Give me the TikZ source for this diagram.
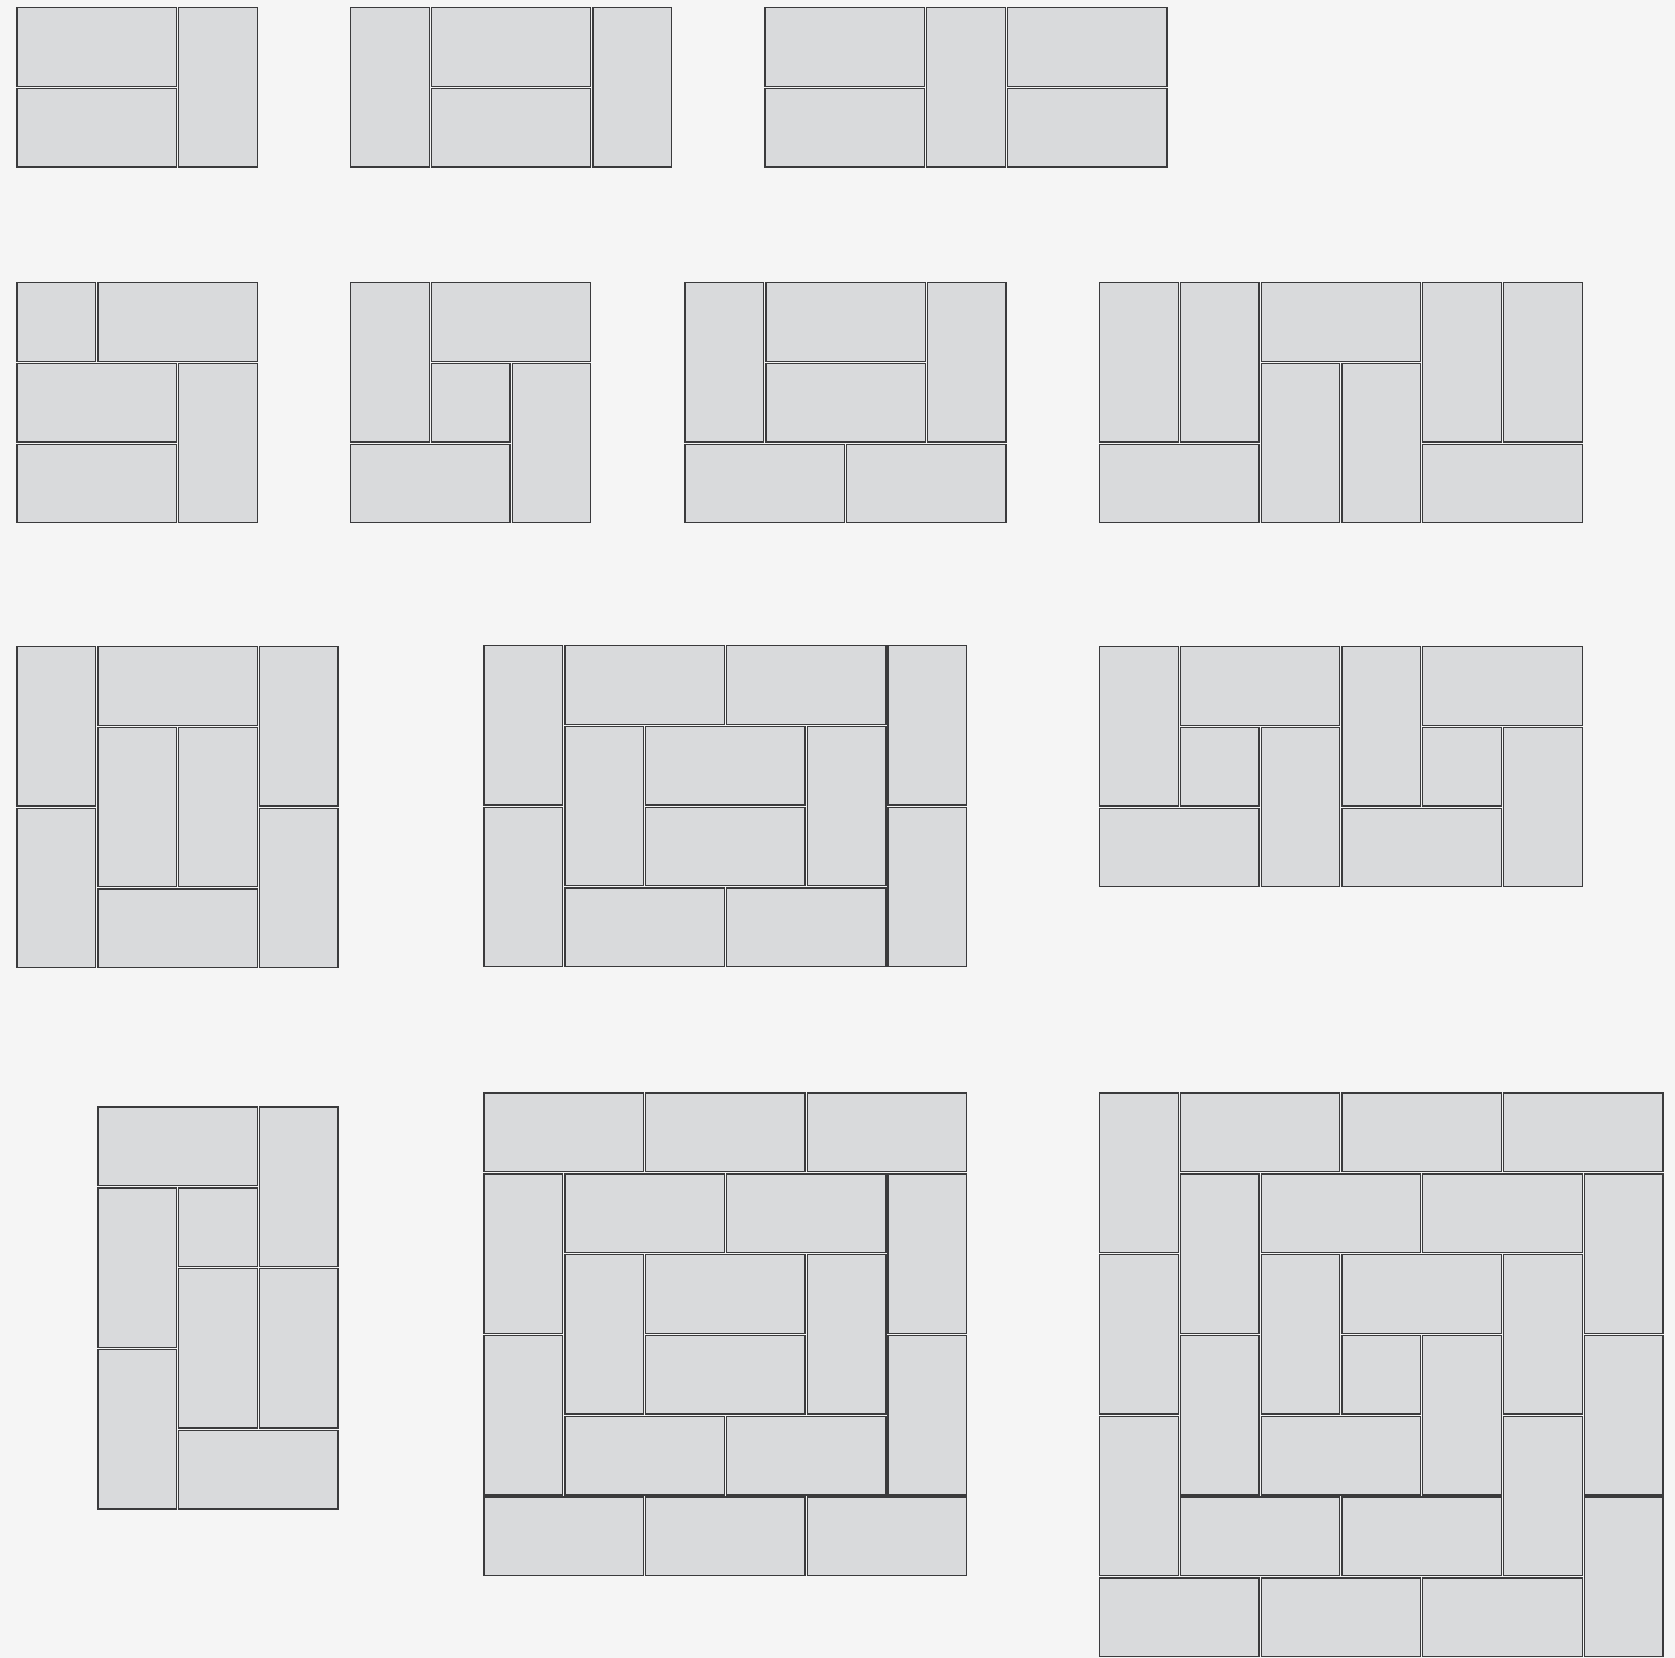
\documentclass[tikz,border=0pt]{standalone}
\definecolor{bgcol}{RGB}{245,245,245}
\definecolor{tilefill}{RGB}{217,218,220}
\definecolor{tileline}{RGB}{58,58,60}
\newcommand\tilepattern[3]{%
  \foreach \a/\b/\c/\d in {#3} {%
    \path[tileS] ({#1+\a*80.8+1.1},{#2+\b*80.8+1.1}) rectangle ({#1+(\a+\c)*80.8-1.1},{#2+(\b+\d)*80.8-1.1});
  }}
\begin{document}
\begin{tikzpicture}[x=1bp,y=-1bp,
  tileS/.style={draw=tileline, fill=tilefill, line width=1.3bp}]
\fill[bgcol] (0,0) rectangle (1675,1658);
\useasboundingbox (0,0) rectangle (1675,1658);
\clip (0,0) rectangle (1675,1658);
% Row 1
\tilepattern{16}{6.5}{0/0/2/1, 0/1/2/1, 2/0/1/2}
\tilepattern{349.5}{6.5}{0/0/1/2, 1/0/2/1, 1/1/2/1, 3/0/1/2}
\tilepattern{764}{6.5}{0/0/2/1, 0/1/2/1, 2/0/1/2, 3/0/2/1, 3/1/2/1}
% Row 2
\tilepattern{16}{281.5}{0/0/1/1, 1/0/2/1, 0/1/2/1, 0/2/2/1, 2/1/1/2}
\tilepattern{349.5}{281.5}{0/0/1/2, 1/0/2/1, 1/1/1/1, 2/1/1/2, 0/2/2/1}
\tilepattern{684}{281.5}{0/0/1/2, 1/0/2/1, 1/1/2/1, 3/0/1/2, 0/2/2/1, 2/2/2/1}
\tilepattern{1098.5}{281.5}{0/0/1/2, 1/0/1/2, 2/0/2/1, 2/1/1/2, 3/1/1/2, 4/0/1/2, 5/0/1/2, 0/2/2/1, 4/2/2/1}
% Row 3
\tilepattern{16}{645.5}{0/0/1/2, 0/2/1/2, 1/0/2/1, 1/1/1/2, 2/1/1/2, 1/3/2/1, 3/0/1/2, 3/2/1/2}
\tilepattern{483}{644.5}{0/0/1/2, 0/2/1/2, 1/0/2/1, 3/0/2/1, 5/0/1/2, 5/2/1/2, 1/1/1/2, 2/1/2/1, 2/2/2/1, 4/1/1/2, 1/3/2/1, 3/3/2/1}
\tilepattern{1098.5}{645.5}{0/0/1/2, 1/0/2/1, 1/1/1/1, 2/1/1/2, 0/2/2/1, 3/0/1/2, 4/0/2/1, 4/1/1/1, 5/1/1/2, 3/2/2/1}
% Row 4
\tilepattern{96.8}{1106}{0/0/2/1, 2/0/1/2, 0/1/1/2, 1/1/1/1, 1/2/1/2, 2/2/1/2, 0/3/1/2, 1/4/2/1}
\tilepattern{483}{1092}{0/0/2/1, 2/0/2/1, 4/0/2/1, 0/1/1/2, 0/3/1/2, 1/1/2/1, 3/1/2/1, 5/1/1/2, 5/3/1/2, 1/2/1/2, 2/2/2/1, 2/3/2/1, 4/2/1/2, 1/4/2/1, 3/4/2/1, 0/5/2/1, 2/5/2/1, 4/5/2/1}
\tilepattern{1098.5}{1092}{0/0/1/2, 1/0/2/1, 3/0/2/1, 5/0/2/1, 1/1/1/2, 2/1/2/1, 4/1/2/1, 6/1/1/2, 0/2/1/2, 2/2/1/2, 3/2/2/1, 5/2/1/2, 1/3/1/2, 3/3/1/1, 4/3/1/2, 6/3/1/2, 0/4/1/2, 2/4/2/1, 5/4/1/2, 1/5/2/1, 3/5/2/1, 6/5/1/2, 0/6/2/1, 2/6/2/1, 4/6/2/1}
\end{tikzpicture}
\end{document}
